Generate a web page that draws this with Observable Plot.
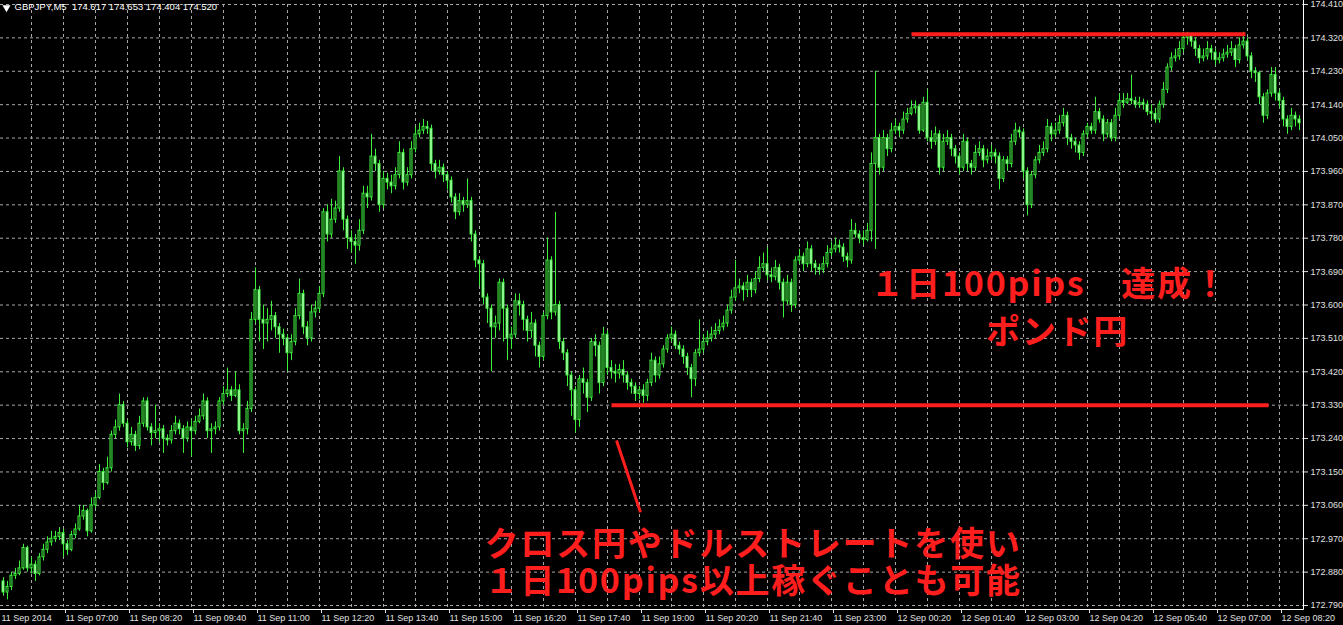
<!DOCTYPE html>
<html><head><meta charset="utf-8">
<script src="https://cdn.jsdelivr.net/npm/d3@7"></script>
<script src="https://cdn.jsdelivr.net/npm/@observablehq/plot@0.6"></script>
<style>html,body{margin:0;padding:0;background:#000;overflow:hidden}</style>
</head><body><div id="chart"></div>
<script>
const symbolLabel = "GBPJPY,M5";
const headerQuote = "174.617 174.653 174.404 174.520";
const firstOpen = 172.855;
const close = [
172.825,172.84,172.87,172.875,172.89,172.945,172.89,172.9,172.875,172.92,
172.94,172.96,172.97,172.975,172.985,172.955,172.94,172.98,172.995,173.03,
173.045,172.99,173.06,173.08,173.15,173.12,173.16,173.25,173.27,173.33,
173.28,173.23,173.25,173.22,173.28,173.34,173.27,173.255,173.26,173.265,
173.24,173.235,173.26,173.28,173.265,173.24,173.27,173.26,173.285,173.3,
173.34,173.26,173.265,173.27,173.34,173.36,173.37,173.355,173.37,173.26,
173.265,173.32,173.56,173.64,173.56,173.55,173.56,173.57,173.54,173.52,
173.51,173.47,173.5,173.57,173.63,173.54,173.51,173.58,173.59,173.63,
173.85,173.79,173.83,173.86,173.96,173.83,173.78,173.77,173.76,173.8,
173.9,173.89,174,173.98,173.87,173.94,173.93,173.92,173.95,174.01,
173.93,173.95,174.02,174.06,174.07,174.08,174.075,173.98,173.96,173.97,
173.95,173.935,173.89,173.85,173.88,173.87,173.88,173.79,173.72,173.71,
173.62,173.59,173.54,173.55,173.66,173.59,173.51,173.52,173.61,173.6,
173.56,173.53,173.55,173.49,173.46,173.57,173.72,173.58,173.6,173.5,
173.47,173.41,173.37,173.29,173.4,173.39,173.35,173.5,173.49,173.39,
173.52,173.43,173.42,173.415,173.425,173.41,173.39,173.38,173.36,173.37,
173.355,173.39,173.45,173.41,173.44,173.48,173.51,173.52,173.49,173.48,
173.46,173.43,173.4,173.47,173.48,173.5,173.51,173.52,173.53,173.54,
173.55,173.585,173.62,173.645,173.65,173.64,173.66,173.64,173.67,173.7,
173.71,173.68,173.675,173.7,173.66,173.61,173.66,173.6,173.72,173.73,
173.71,173.75,173.71,173.7,173.695,173.71,173.74,173.75,173.76,173.755,
173.73,173.72,173.8,173.79,173.78,173.775,173.8,173.98,174.05,173.97,
174.05,174.02,174.07,174.08,174.07,174.1,174.115,174.13,174.135,174.07,
174.145,174.05,174.04,174.06,173.97,174.04,174.05,174.02,174,173.97,
174.04,173.98,173.97,174.01,174.02,173.99,174,174.01,174,173.94,
173.99,173.98,174.04,174.07,174.065,173.96,173.87,173.95,173.99,174.01,
174.02,174.08,174.06,174.07,174.09,174.11,174.05,174.04,174.03,174.01,
174.06,174.08,174.07,174.12,174.1,174.06,174.09,174.05,174.11,174.15,
174.145,174.155,174.15,174.14,174.145,174.14,174.12,174.115,174.1,174.14,
174.18,174.24,174.265,174.27,174.29,174.32,174.325,174.31,174.29,174.265,
174.27,174.29,174.28,174.26,174.265,174.275,174.28,174.29,174.26,174.3,
174.31,174.27,174.23,174.225,174.16,174.11,174.17,174.22,174.17,174.15,
174.1,174.08,174.11,174.1,174.09
];
const high = [
172.865,172.855,172.88,172.89,172.91,172.955,172.95,172.92,172.91,172.93,
172.955,172.975,172.99,172.99,173,172.995,172.965,172.99,173.01,173.06,
173.06,173.05,173.08,173.095,173.17,173.16,173.19,173.26,173.29,173.36,
173.34,173.29,173.27,173.26,173.3,173.35,173.35,173.28,173.33,173.28,
173.275,173.25,173.275,173.3,173.29,173.275,173.285,173.29,173.3,173.32,
173.36,173.35,173.28,173.285,173.35,173.38,173.43,173.38,173.42,173.385,
173.28,173.34,173.58,173.7,173.65,173.6,173.59,173.61,173.58,173.55,
173.535,173.52,173.52,173.59,173.67,173.64,173.555,173.6,173.61,173.65,
173.86,173.87,173.885,173.88,174,173.97,173.84,173.8,173.79,173.83,
173.92,173.92,174.06,174.02,173.99,173.96,173.955,173.95,173.97,174.04,
174.02,173.97,174.04,174.08,174.09,174.1,174.095,174.085,173.99,173.99,
173.98,173.96,173.945,173.9,173.9,173.89,173.94,173.89,173.8,173.73,
173.72,173.63,173.6,173.57,173.67,173.67,173.6,173.54,173.63,173.63,
173.61,173.57,173.58,173.56,173.5,173.58,173.78,173.73,173.85,173.61,
173.51,173.48,173.42,173.38,173.41,173.43,173.4,173.51,173.52,173.5,
173.54,173.53,173.45,173.44,173.44,173.45,173.42,173.4,173.39,173.38,
173.385,173.4,173.47,173.46,173.46,173.49,173.52,173.54,173.53,173.5,
173.49,173.47,173.44,173.48,173.56,173.52,173.53,173.54,173.55,173.56,
173.57,173.6,173.64,173.72,173.67,173.66,173.68,173.67,173.69,173.73,
173.74,173.755,173.7,173.72,173.71,173.67,173.68,173.67,173.73,173.75,
173.74,173.77,173.76,173.72,173.71,173.73,173.76,173.77,173.78,173.775,
173.765,173.74,173.83,173.82,173.8,173.8,173.82,174.01,174.23,174.06,
174.07,174.06,174.09,174.1,174.09,174.12,174.13,174.15,174.15,174.14,
174.16,174.18,174.07,174.08,174.07,174.06,174.07,174.06,174.03,174.01,
174.06,174.05,173.99,174.03,174.04,174.03,174.02,174.03,174.02,174.01,
174,174,174.06,174.09,174.08,174.075,173.97,173.96,174,174.03,
174.04,174.1,174.09,174.09,174.11,174.13,174.12,174.06,174.05,174.04,
174.07,174.09,174.09,174.16,174.13,174.11,174.1,174.1,174.13,174.17,
174.17,174.17,174.22,174.16,174.16,174.155,174.15,174.14,174.13,174.15,
174.2,174.25,174.28,174.29,174.31,174.335,174.335,174.33,174.32,174.3,
174.29,174.31,174.3,174.29,174.28,174.29,174.3,174.31,174.3,174.32,
174.335,174.32,174.28,174.24,174.23,174.17,174.18,174.24,174.24,174.18,
174.16,174.11,174.13,174.12,174.11
];
const low = [
172.815,172.805,172.83,172.86,172.87,172.885,172.88,172.875,172.855,172.87,
172.91,172.93,172.95,172.96,172.965,172.92,172.925,172.935,172.97,172.99,
173.02,172.975,172.985,173.05,173.075,173.1,173.115,173.15,173.24,173.26,
173.27,173.215,173.22,173.205,173.21,173.27,173.26,173.22,173.24,173.23,
173.2,173.22,173.225,173.25,173.25,173.2,173.23,173.19,173.25,173.28,
173.29,173.24,173.2,173.25,173.26,173.33,173.35,173.34,173.35,173.25,
173.2,173.25,173.31,173.55,173.5,173.48,173.5,173.53,173.51,173.47,
173.49,173.42,173.45,173.49,173.56,173.52,173.49,173.5,173.565,173.58,
173.62,173.77,173.78,173.82,173.85,173.8,173.75,173.74,173.71,173.745,
173.79,173.86,173.88,173.96,173.85,173.86,173.91,173.9,173.91,173.94,
173.91,173.92,173.94,174.01,174.05,174.06,174.06,173.96,173.94,173.95,
173.93,173.91,173.875,173.83,173.84,173.85,173.86,173.77,173.7,173.65,
173.6,173.55,173.42,173.51,173.53,173.5,173.45,173.48,173.51,173.57,
173.53,173.5,173.51,173.46,173.43,173.45,173.56,173.56,173.57,173.48,
173.45,173.38,173.3,173.255,173.27,173.36,173.31,173.34,173.46,173.36,
173.38,173.41,173.4,173.39,173.4,173.39,173.37,173.36,173.34,173.345,
173.335,173.34,173.38,173.39,173.4,173.43,173.47,173.5,173.48,173.465,
173.44,173.41,173.35,173.38,173.46,173.47,173.49,173.5,173.51,173.52,
173.53,173.54,173.575,173.61,173.63,173.61,173.62,173.62,173.63,173.66,
173.69,173.665,173.66,173.665,173.64,173.565,173.6,173.58,173.59,173.71,
173.69,173.7,173.69,173.68,173.68,173.685,173.7,173.73,173.74,173.74,
173.715,173.7,173.71,173.78,173.765,173.76,173.77,173.77,173.75,173.95,
173.96,174,174.01,174.06,174.05,174.06,174.09,174.11,174.115,174.06,
174.065,174.04,174.02,174.03,173.95,173.96,174.03,174,173.98,173.95,
173.96,173.96,173.95,173.96,174,173.97,173.98,173.99,173.98,173.91,
173.93,173.96,173.97,174.03,174.05,173.94,173.84,173.86,173.94,173.98,
174,174.01,174.04,174.05,174.06,174.08,174.03,174.02,174.01,173.99,
174,174.05,174.06,174.06,174.09,174.04,174.05,174.04,174.04,174.1,
174.13,174.14,174.14,174.13,174.13,174.125,174.11,174.1,174.09,174.09,
174.13,174.17,174.23,174.255,174.26,174.28,174.3,174.295,174.27,174.25,
174.255,174.26,174.26,174.245,174.25,174.255,174.265,174.27,174.24,174.25,
174.29,174.26,174.21,174.2,174.14,174.09,174.1,174.16,174.15,174.13,
174.08,174.06,174.07,174.08,174.07
];
const yTicks = [172.79,172.88,172.97,173.06,173.15,173.24,173.33,173.42,173.51,173.6,173.69,173.78,173.87,173.96,174.05,174.14,174.23,174.32,174.41];
const startLabel = "11 Sep 2014";
const xTickBars = [15,31,47,63,79,95,111,127,143,159,175,191,207,223,239,255,271,287,303,319];
const xTickLabels = ["11 Sep 07:00","11 Sep 08:20","11 Sep 09:40","11 Sep 11:00","11 Sep 12:20","11 Sep 13:40","11 Sep 15:00","11 Sep 16:20","11 Sep 17:40","11 Sep 19:00","11 Sep 20:20","11 Sep 21:40","11 Sep 23:00","12 Sep 00:20","12 Sep 01:40","12 Sep 03:00","12 Sep 04:20","12 Sep 05:40","12 Sep 07:00","12 Sep 08:20"];
const gridBars = [7,15,23,31,39,47,55,63,71,79,87,95,103,111,119,127,135,143,151,159,167,175,183,191,199,207,215,223,231,239,247,255,263,271,279,287,295,303,311,319];
const levelLines = [
  {x1: 152, x2: 316.25, y: 173.33},
  {x1: 227, x2: 310.5, y: 174.33}
];
const pointerLine = [{x1: 153.25, y1: 173.235, x2: 159.25, y2: 173.041}];
const notesCentered = [
  {text: "１日100pips　達成！", x: 261.5, y: 173.653},
  {text: "ポンド円", x: 263.5, y: 173.523}
];
const noteLeftLines = ["クロス円やドルストレートを使い", "１日100pips以上稼ぐことも可能"];
const noteLeftAt = [{x: 120.25, y: 172.906}];

const GREEN = "#3cf03c";
const RED = "#ff1e1e";
const GRID = "#a8a8a8";
const JP = "'Noto Sans CJK JP', sans-serif";
const bars = close.map((c, i) => ({i, open: i ? close[i - 1] : firstOpen, close: c, high: high[i], low: low[i]}));
const labelByBar = new Map(xTickBars.map((b, k) => [b, xTickLabels[k]]));

const chart = Plot.plot({
  width: 1343, height: 625,
  marginLeft: 0, marginRight: 40, marginTop: 4, marginBottom: 16, insetBottom: 4,
  style: {background: "#000", color: "#ddd", fontFamily: "'Liberation Sans', Arial, sans-serif", fontSize: "9px"},
  x: {type: "linear", domain: [-0.75, 325], axis: null},
  y: {domain: [172.79, 174.41], axis: null},
  marks: [
    Plot.gridY(yTicks, {stroke: GRID, strokeOpacity: 1, strokeDasharray: "3,3"}),
    Plot.gridX(gridBars, {stroke: GRID, strokeOpacity: 1, strokeDasharray: "3,3"}),
    Plot.ruleX(bars, {x: "i", y1: "low", y2: "high", stroke: GREEN, strokeWidth: 1}),
    Plot.rect(bars, {x1: d => d.i - 0.25, x2: d => d.i + 0.25, y1: "open", y2: "close",
      fill: d => d.close > d.open ? "#0a1a0a" : "#d8ffd8", stroke: GREEN, strokeWidth: 1}),
    Plot.link(levelLines, {x1: "x1", x2: "x2", y1: "y", y2: "y", stroke: RED, strokeWidth: 4}),
    Plot.link(pointerLine, {x1: "x1", y1: "y1", x2: "x2", y2: "y2", stroke: RED, strokeWidth: 3}),
    Plot.text(notesCentered, {x: "x", y: "y", text: "text", fill: RED, fontSize: 34, textAnchor: "middle", fontFamily: JP, fontWeight: "bold"}),
    Plot.text(noteLeftAt, {x: "x", y: "y", text: () => noteLeftLines.join("\n"), lineHeight: 1.08, fill: RED, fontSize: 34, textAnchor: "start", fontFamily: JP, fontWeight: "bold"}),
    Plot.axisY(yTicks, {anchor: "right", tickFormat: d3.format(".3f"), tickSize: 4, tickPadding: 3, color: "#e0e0e0", fontSize: 9}),
    Plot.axisX(xTickBars, {anchor: "bottom", tickFormat: d => labelByBar.get(d), tickSize: 4, tickPadding: 1, textAnchor: "start", dx: 2, color: "#e0e0e0", fontSize: 9}),
    Plot.text([startLabel], {frameAnchor: "bottom-left", dy: 5, dx: 1, lineAnchor: "top", textAnchor: "start", fill: "#e0e0e0", fontSize: 9}),
    Plot.text([symbolLabel + "\u00a0\u00a0" + headerQuote], {frameAnchor: "top-left", dx: 14, dy: -1.5, lineAnchor: "top", textAnchor: "start", fill: "#fff", fontSize: 9.5}),
    Plot.dot([0], {frameAnchor: "top-left", dx: 6, dy: 3, symbol: "triangle", r: 3, fill: "#fff", rotate: 180})
  ]
});
document.getElementById("chart").appendChild(chart);
const svg = d3.select(chart);
svg.selectAll("g").filter(function() { return (this.getAttribute("font-family") || "").includes("Noto"); })
  .attr("letter-spacing", "1.8px");
const xr = chart.scale("x").range;
svg.append("line").attr("x1", xr[1] + 0.5).attr("x2", xr[1] + 0.5).attr("y1", 0).attr("y2", 609.5).attr("stroke", "#fff");
svg.append("line").attr("x1", 0).attr("x2", xr[1] + 0.5).attr("y1", 609.5).attr("y2", 609.5).attr("stroke", "#fff");
</script>
</body></html>
